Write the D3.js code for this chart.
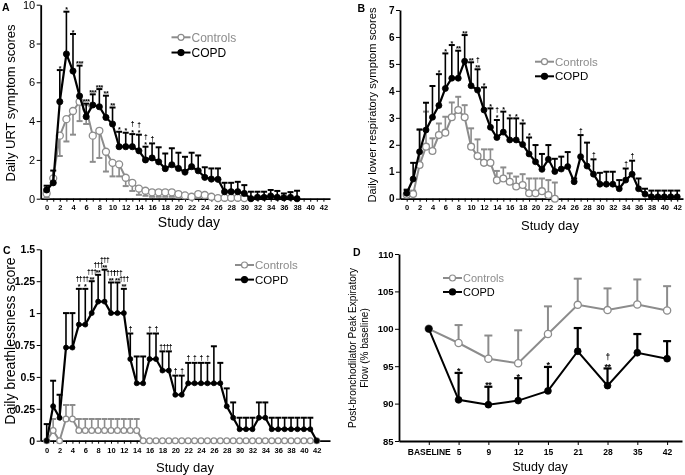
<!DOCTYPE html>
<html>
<head>
<meta charset="utf-8">
<script src="https://cdn.jsdelivr.net/npm/d3@7"></script>
<style>
body { margin: 0; background: #fff; }
svg { display: block; font-family: "Liberation Sans", Arial, sans-serif; will-change: transform; }
</style>
</head>
<body>
<svg id="chart" width="685" height="475"></svg>
<script>
// ---- data (index = study day, starting at 0) ----

// A: daily URT symptom scores
var urtCopd = [0.45, 0.82, 5.0, 7.46, 6.58, 5.29, 4.23, 4.83, 4.74, 4.19, 3.85, 2.68, 2.68, 2.68, 2.47, 2.0, 2.1, 1.9, 1.55, 1.75,
  1.56, 1.37, 1.65, 1.44, 1.1, 1.01, 1.0, 0.36, 0.36, 0.36, 0.27, 0, 0.07, 0.07, 0.14, 0.07, 0.05, 0.07, 0];
var urtCopdErr = [0.67, 1.45, 6.63, 9.64, 8.49, 6.86, 4.9, 5.38, 5.65, 5.31, 4.7, 3.45, 3.4, 3.33, 3.3, 2.68, 2.85, 2.65, 2.33, 2.6,
  2.37, 2.16, 2.37, 2.23, 1.62, 1.56, 1.56, 0.82, 0.82, 0.87, 0.7, 0.36, 0.36, 0.36, 0.45, 0.4, 0.27, 0.34, 0.41];
var urtCtrl = [0.27, 1.05, 3.25, 4.1, 4.52, 5.0, 4.65, 3.25, 3.5, 2.42, 1.85, 1.77, 1.08, 0.82, 0.52, 0.41, 0.33, 0.33, 0.33, 0.33,
  0.24, 0.17, 0.1, 0.24, 0.19, 0.1, 0.03, 0.05, 0.05, 0.05, 0.03];
var urtCtrlErr = [0.05, 0.8, 2.2, 2.95, 3.3, 4.0, 3.85, 1.9, 2.1, 1.4, 1.15, 1.15, 0.65, 0.4, 0.2, 0.15, 0.1, 0.1, 0.1, 0.1,
  0.05, 0.03, 0.1, 0.05, 0.05, 0.1, 0.03, 0.05, 0.05, 0.05, 0.03];
var urtSig = [[2, "*", ""], [3, "*", ""], [4, "*", ""], [5, "***", ""], [6, "***", ""], [7, "***", ""], [8, "***", ""],
  [9, "**", ""], [10, "**", ""], [11, "*", ""], [12, "*", ""], [13, "*", "†"], [14, "*", "†"], [15, "*", "†"], [16, "", "†"]];

// B: daily lower respiratory symptom scores
var lrtCopd = [0.2, 0.73, 1.74, 2.55, 3.02, 3.46, 4.09, 4.47, 4.47, 5.1, 4.19, 4.03, 3.29, 2.65, 2.27, 2.47, 2.18, 2.18, 2.01, 1.66,
  1.37, 1.09, 1.46, 1.01, 1.1, 1.19, 0.63, 1.56, 1.21, 0.91, 0.54, 0.54, 0.54, 0.37, 0.69, 0.91, 0.37, 0.17, 0.07, 0.07,
  0.07, 0.07, 0.07];
var lrtCopdErr = [0.32, 1.33, 2.57, 3.56, 4.18, 4.62, 5.39, 5.7, 5.49, 6.07, 5.06, 4.8, 4.13, 3.35, 2.92, 3.23, 2.98, 2.98, 2.79, 2.27,
  1.99, 1.66, 1.99, 1.48, 1.56, 1.73, 0.75, 2.36, 2.08, 1.46, 0.96, 1.0, 1.0, 0.69, 1.12, 1.41, 0.75, 0.37, 0.3, 0.3,
  0.3, 0.3, 0.3];
var lrtCtrl = [0.15, 0.17, 1.25, 1.93, 1.77, 2.36, 2.45, 3.02, 3.29, 3.02, 1.93, 1.58, 1.33, 1.33, 0.68, 0.75, 0.63, 0.45, 0.51, 0.2,
  0.2, 0.28, 0.14, 0.0];
var lrtCtrlErr = [0.35, 0.3, 2.55, 3.23, 2.24, 2.79, 3.04, 3.57, 3.78, 3.47, 2.61, 2.2, 1.83, 1.83, 1.03, 1.16, 0.94, 0.82, 0.91, 0.75,
  0.75, 0.75, 0.69, 0.6];
var lrtSig = [[5, "*", ""], [6, "*", ""], [7, "*", ""], [8, "**", ""], [9, "**", ""], [10, "**", ""], [11, "**", "†"], [12, "*", ""],
  [13, "*", ""], [14, "*", "†"], [15, "*", ""], [16, "*", ""], [17, "*", ""], [18, "*", ""], [19, "*", ""], [27, "", "†"],
  [29, "", "†"], [34, "", "†"], [35, "", "†"]];

// C: daily breathlessness score
var brCopd = [0, 0.27, 0.18, 0.73, 0.73, 0.91, 0.91, 1.0, 1.09, 1.09, 1.0, 1.0, 1.0, 0.64, 0.45, 0.45, 0.64, 0.64, 0.55, 0.55,
  0.36, 0.36, 0.45, 0.45, 0.45, 0.45, 0.45, 0.45, 0.27, 0.18, 0.09, 0.09, 0.09, 0.18, 0.18, 0.09, 0.09, 0.09, 0.09, 0.09,
  0.09, 0.09, 0];
var brCopdErr = [0.13, 0.47, 0.36, 1.0, 1.0, 1.19, 1.19, 1.25, 1.3, 1.34, 1.24, 1.24, 1.19, 0.84, 0.66, 0.66, 0.84, 0.84, 0.7, 0.7,
  0.51, 0.51, 0.61, 0.61, 0.61, 0.61, 0.74, 0.61, 0.41, 0.3, 0.18, 0.18, 0.18, 0.3, 0.3, 0.18, 0.18, 0.18, 0.18, 0.18,
  0.18, 0.18, 0];
var brCtrl = [0, 0.08, 0, 0.17, 0.17, 0.08, 0.08, 0.08, 0.08, 0.08, 0.08, 0.08, 0.08, 0.08, 0.08, 0, 0, 0, 0, 0,
  0, 0, 0, 0, 0, 0, 0, 0, 0, 0, 0, 0, 0, 0, 0, 0, 0, 0, 0, 0,
  0, 0, 0];
var brCtrlErr = [0, 0.17, 0, 0.28, 0.28, 0.17, 0.17, 0.17, 0.17, 0.17, 0.17, 0.17, 0.17, 0.17, 0.17, 0, 0, 0, 0, 0,
  0, 0, 0, 0, 0, 0, 0, 0, 0, 0, 0, 0, 0, 0, 0, 0, 0, 0, 0, 0,
  0, 0, 0];
var brSig = [[5, "*", "††"], [6, "*", "††"], [7, "**", "†††"], [8, "**", "†††"], [9, "**", "†††"], [10, "**", "†††"],
  [11, "**", "†††"], [12, "**", "†††"], [13, "", "†"], [16, "", "†"], [17, "", "†"], [18, "", "††"], [19, "", "††"],
  [20, "", "†"], [21, "", "†"], [22, "", "†"], [23, "", "†"], [24, "", "†"], [25, "", "†"]];

// D: post-bronchodilator PEF (% baseline)
var pefDays = ["BASELINE", "5", "9", "12", "15", "21", "28", "35", "42"];
var pefCtrl = [100, 98.1, 96.0, 95.4, 99.3, 103.2, 102.5, 103.25, 102.45];
var pefCtrlErr = [100, 100.5, 99.1, 99.8, 103.0, 106.7, 105.4, 106.6, 105.7];
var pefCopd = [100, 90.5, 89.85, 90.4, 91.7, 97.0, 92.4, 96.8, 96.0];
var pefCopdErr = [100, 94.1, 92.25, 93.4, 94.9, 100.1, 94.7, 99.3, 98.35];
var pefSig = [[1, "*", ""], [2, "**", ""], [3, "*", ""], [4, "*", ""], [6, "**", "†"]];

var dayTicks = d3.range(0, 43);

var grey = "#8c8c8c";
var svg = d3.select("#chart");

function series(g, x, y, vals, errs, o) {
  var pts = vals.map(function(v, i) { return {i: i, v: v, e: errs[i]}; });
  var bars = pts.filter(function(d) { return o.down ? d.e < d.v : d.e > d.v; });

  g.selectAll(null).data(bars).enter().append("line")
    .attr("x1", function(d) { return x(d.i); })
    .attr("x2", function(d) { return x(d.i); })
    .attr("y1", function(d) { return y(d.v); })
    .attr("y2", function(d) { return y(d.e); })
    .attr("stroke", o.color).attr("stroke-width", o.barW);

  g.selectAll(null).data(bars).enter().append("line")
    .attr("x1", function(d) { return x(d.i) - o.cap / 2; })
    .attr("x2", function(d) { return x(d.i) + o.cap / 2; })
    .attr("y1", function(d) { return y(d.e); })
    .attr("y2", function(d) { return y(d.e); })
    .attr("stroke", o.color).attr("stroke-width", o.capW);

  g.append("path").datum(pts)
    .attr("d", d3.line().x(function(d) { return x(d.i); }).y(function(d) { return y(d.v); }))
    .attr("fill", "none").attr("stroke", o.color).attr("stroke-width", o.lineW);

  g.selectAll(null).data(pts).enter().append("circle")
    .attr("cx", function(d) { return x(d.i); })
    .attr("cy", function(d) { return y(d.v); })
    .attr("r", o.r)
    .attr("fill", o.open ? "#fff" : o.color)
    .attr("stroke", o.color).attr("stroke-width", o.open ? 1.3 : 0.8);
}

// stars sit just above the cap, daggers above the stars
function signif(g, x, y, errs, sig, s) {
  sig.forEach(function(d) {
    var top = y(errs[d[0]]);
    if (d[1]) {
      g.append("text").attr("x", x(d[0])).attr("y", top - 2.5 + 0.43 * s)
        .attr("text-anchor", "middle").attr("font-size", s).attr("font-weight", "bold")
        .attr("letter-spacing", -0.4).text(d[1]);
    }
    if (d[2]) {
      var base = d[1] ? top - 3.5 - 0.6 * s : top - 1.5 - 0.13 * s;
      g.append("text").attr("x", x(d[0])).attr("y", base)
        .attr("text-anchor", "middle").attr("font-size", s * 0.95).attr("font-weight", "bold")
        .attr("letter-spacing", -0.6).text(d[2]);
    }
  });
}

function legend(g, lx, ly, size) {
  var items = [{t: "Controls", c: grey, open: true, dy: 0}, {t: "COPD", c: "#000", open: false, dy: size * 1.27}];
  items.forEach(function(it) {
    g.append("line").attr("x1", lx).attr("x2", lx + 19).attr("y1", ly + it.dy).attr("y2", ly + it.dy)
      .attr("stroke", it.c).attr("stroke-width", 2);
    g.append("circle").attr("cx", lx + 9.5).attr("cy", ly + it.dy).attr("r", 3)
      .attr("fill", it.open ? "#fff" : it.c).attr("stroke", it.c).attr("stroke-width", 1.2);
    g.append("text").attr("x", lx + 20).attr("y", ly + it.dy + size * 0.36)
      .attr("font-size", size).attr("fill", it.c).text(it.t);
  });
}

function styleAxis(ax, size, bold) {
  ax.attr("font-family", null).attr("font-size", size).attr("font-weight", bold ? "bold" : "normal");
  ax.select(".domain").attr("stroke-width", 1.8);
  ax.selectAll(".tick line").attr("stroke-width", 1);
}

function axisTitles(p) {
  svg.append("text").attr("x", p.letter[0]).attr("y", p.letter[1])
    .attr("font-size", 10.5).attr("font-weight", "bold").text(p.id);
  svg.append("text").attr("x", p.xTitle[0]).attr("y", p.xTitle[1])
    .attr("text-anchor", "middle").attr("font-size", p.xTitle[2]).text("Study day");
  p.yTitle.lines.forEach(function(t, k) {
    svg.append("text")
      .attr("transform", "translate(" + (p.yTitle.x + k * p.yTitle.gap) + "," + p.yTitle.y + ") rotate(-90)")
      .attr("text-anchor", "middle").attr("font-size", p.yTitle.size).text(t);
  });
}

function dailyPanel(p) {
  var x = d3.scaleLinear().domain(p.xDomain).range(p.xRange);
  var y = d3.scaleLinear().domain(p.yDomain).range(p.yRange);
  var g = svg.append("g");

  var ax = g.append("g").attr("transform", "translate(0," + p.yRange[0] + ")")
    .call(d3.axisBottom(x).tickValues(dayTicks).tickSize(3).tickSizeOuter(0).tickPadding(p.xPad)
      .tickFormat(function(d) { return d % 2 ? "" : d; }));
  styleAxis(ax, 7.5, true);

  var ay = g.append("g").attr("transform", "translate(" + p.xRange[0] + ",0)")
    .call(d3.axisLeft(y).tickValues(p.yTicks).tickSize(4).tickSizeOuter(0).tickPadding(1.5)
      .tickFormat(function(d) { return String(d); }));
  styleAxis(ay, p.yFont, p.yBold);

  series(g.append("g"), x, y, p.ctrl, p.ctrlErr,
    {color: grey, open: true, r: p.r + 0.4, cap: 6, barW: 1.6, capW: 2, lineW: 2, down: p.ctrlDown});
  series(g.append("g"), x, y, p.copd, p.copdErr,
    {color: "#000", open: false, r: p.r, cap: 6, barW: 1.6, capW: 2, lineW: 2.2, down: false});
  signif(g, x, y, p.copdErr, p.sig, 7);
  legend(g, p.legend[0], p.legend[1], p.legend[2]);
  axisTitles(p);
}

dailyPanel({
  id: "A", letter: [2, 10.5],
  xDomain: [-0.9, 43], xRange: [40.7, 330], xPad: 2.5,
  yDomain: [0, 10], yRange: [198.7, 4.7], yTicks: [0, 2, 4, 6, 8, 10], yFont: 11, yBold: false,
  copd: urtCopd, copdErr: urtCopdErr, ctrl: urtCtrl, ctrlErr: urtCtrlErr, ctrlDown: true, sig: urtSig,
  r: 3.1, legend: [171.5, 37.3, 12],
  xTitle: [189, 226.5, 14], yTitle: {lines: ["Daily URT symptom scores"], x: 14.5, y: 103, gap: 0, size: 13}
});

dailyPanel({
  id: "B", letter: [357.5, 12],
  xDomain: [-1.04, 42.9], xRange: [400, 683], xPad: 2.5,
  yDomain: [0, 7], yRange: [198.7, 10], yTicks: [0, 1, 2, 3, 4, 5, 6, 7], yFont: 10, yBold: true,
  copd: lrtCopd, copdErr: lrtCopdErr, ctrl: lrtCtrl, ctrlErr: lrtCtrlErr, ctrlDown: false, sig: lrtSig,
  r: 3, legend: [535, 61.7, 11.5],
  xTitle: [550, 229.5, 13], yTitle: {lines: ["Daily lower respiratory symptom scores"], x: 375.5, y: 105, gap: 0, size: 11.2}
});

dailyPanel({
  id: "C", letter: [3, 254],
  xDomain: [-0.933, 44.06], xRange: [40.7, 330], xPad: 4,
  yDomain: [0, 1.5], yRange: [440.7, 249.3], yTicks: [0, 0.25, 0.5, 0.75, 1, 1.25, 1.5], yFont: 10.5, yBold: true,
  copd: brCopd, copdErr: brCopdErr, ctrl: brCtrl, ctrlErr: brCtrlErr, ctrlDown: false, sig: brSig,
  r: 2.5, legend: [235, 265, 11.5],
  xTitle: [185, 471.5, 13], yTitle: {lines: ["Daily breathlessness score"], x: 14.5, y: 341, gap: 0, size: 14}
});

// D: categorical study days
(function() {
  var x = d3.scaleLinear().domain([-1, 8.5]).range([399, 682]);
  var y = d3.scaleLinear().domain([85, 110]).range([441, 254]);
  var g = svg.append("g");

  var ax = g.append("g").attr("transform", "translate(0,441)")
    .call(d3.axisBottom(x).tickValues(d3.range(pefDays.length)).tickSize(4).tickSizeOuter(0).tickPadding(3.5)
      .tickFormat(function(i) { return pefDays[i]; }));
  styleAxis(ax, 8.5, true);

  var ay = g.append("g").attr("transform", "translate(399,0)")
    .call(d3.axisLeft(y).tickValues([85, 90, 95, 100, 105, 110]).tickSize(4).tickSizeOuter(0).tickPadding(1.5));
  styleAxis(ay, 9.5, true);

  series(g.append("g"), x, y, pefCtrl, pefCtrlErr,
    {color: grey, open: true, r: 3.6, cap: 8, barW: 2, capW: 2, lineW: 2, down: false});
  series(g.append("g"), x, y, pefCopd, pefCopdErr,
    {color: "#000", open: false, r: 3.4, cap: 8, barW: 2.2, capW: 2.2, lineW: 2, down: false});
  signif(g, x, y, pefCopdErr, pefSig, 9);
  legend(g, 443, 278, 11);
  axisTitles({
    id: "D", letter: [353, 256],
    xTitle: [540, 471, 12.5],
    yTitle: {lines: ["Post-bronchodilator Peak Expiratory", "Flow (% baseline)"], x: 355.5, y: 348, gap: 12, size: 10}
  });
})();
</script>
</body>
</html>
